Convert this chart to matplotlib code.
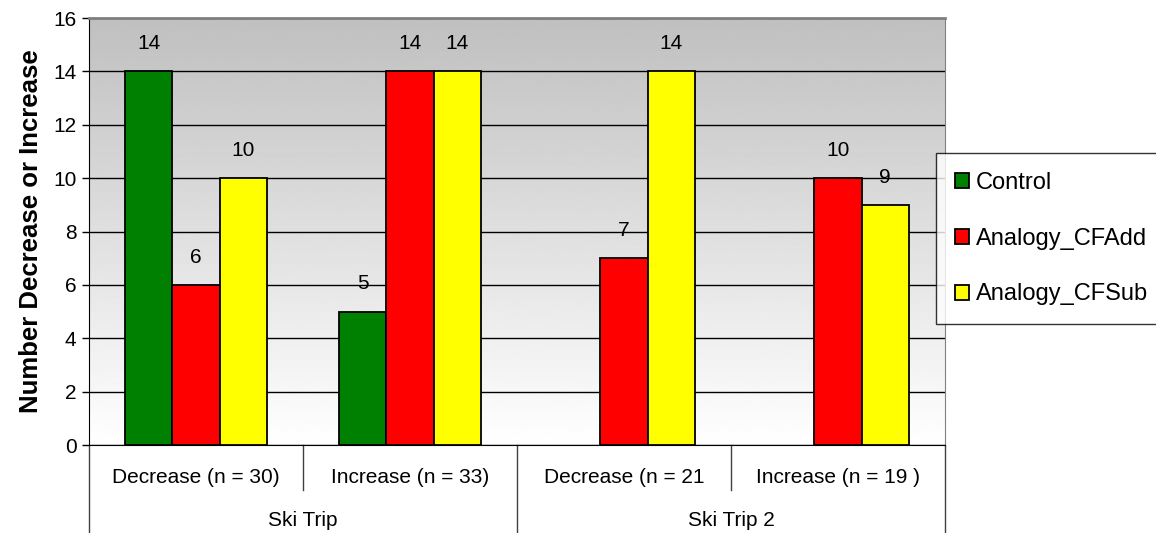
import numpy as np
import matplotlib.pyplot as plt
import matplotlib.transforms as mtransforms

plt.rcParams['font.family'] = ['Liberation Sans', 'DejaVu Sans']

# data
subcats = ['Decrease (n = 30)', 'Increase (n = 33)', 'Decrease (n = 21', 'Increase (n = 19 )']
groups = ['Ski Trip', 'Ski Trip 2']
control = [14, 5, np.nan, np.nan]
cfadd = [6, 14, 7, 10]
cfsub = [10, 14, 14, 9]

series = [('Control', control, '#008000'),
          ('Analogy_CFAdd', cfadd, '#FF0000'),
          ('Analogy_CFSub', cfsub, '#FFFF00')]

fs = 15

fig = plt.figure(figsize=(11.56, 5.33), dpi=100)
ax = fig.add_axes([0.077, 0.1651, 0.7405, 0.8011])

# grey (top) to white (bottom) background
grad = np.linspace(0.75, 1.0, 256).reshape(-1, 1)
ax.imshow(grad, cmap='gray', vmin=0, vmax=1, origin='upper', extent=[0, 1, 0, 1],
          aspect='auto', transform=ax.transAxes, zorder=0)

x = np.arange(len(subcats))
w = 0.22
for i, (name, vals, col) in enumerate(series):
    vals = np.array(vals, dtype=float)
    pos = x + (i - 1) * w
    keep = ~np.isnan(vals)
    ax.bar(pos[keep], vals[keep], width=w, color=col, edgecolor='black',
           linewidth=1.3, label=name, zorder=3)
    for p, v in zip(pos[keep], vals[keep]):
        ax.annotate('%d' % v, (p, v), xytext=(0, 20), textcoords='offset points',
                    ha='center', va='center', fontsize=fs)

ax.set_xlim(-0.5, 3.5)
ax.set_ylim(0, 16)
ax.set_yticks(np.arange(0, 17, 2))
ax.tick_params(axis='y', labelsize=fs, length=5, width=1, direction='out', pad=4)
ax.grid(axis='y', color='black', linewidth=1, zorder=1)
ax.set_axisbelow(True)
ax.set_xticks([])
ax.spines['top'].set_color('#808080')
ax.spines['top'].set_linewidth(2)
ax.spines['right'].set_color('#808080')
ax.spines['left'].set_color('black')
ax.spines['bottom'].set_color('black')
ax.set_ylabel('Number Decrease or Increase', fontsize=18.5, fontweight='bold', labelpad=7)

# two-level category axis
trans = mtransforms.blended_transform_factory(ax.transData, ax.transAxes)
for b in np.arange(-0.5, 4.0, 1.0):
    long = b in (-0.5, 1.5, 3.5)
    ax.plot([b, b], [0, -0.206 if long else -0.105], color='#404040', lw=1,
            transform=trans, clip_on=False)
for xi, lab in zip(x, subcats):
    ax.text(xi, -0.075, lab, transform=trans, ha='center', va='center', fontsize=fs)
for gi, g in enumerate(groups):
    ax.text(0.5 + 2 * gi, -0.176, g, transform=trans, ha='center', va='center', fontsize=fs)

leg = fig.legend(loc='upper left', bbox_to_anchor=(936 / 1156, 1 - 153 / 533),
                 fontsize=17, frameon=True, fancybox=False, edgecolor='black',
                 handlelength=0.6, handleheight=0.6, handletextpad=0.3,
                 labelspacing=1.43, borderpad=0.8, borderaxespad=0)
leg.get_frame().set_linewidth(1)

fig.savefig('out.png', dpi=100)
